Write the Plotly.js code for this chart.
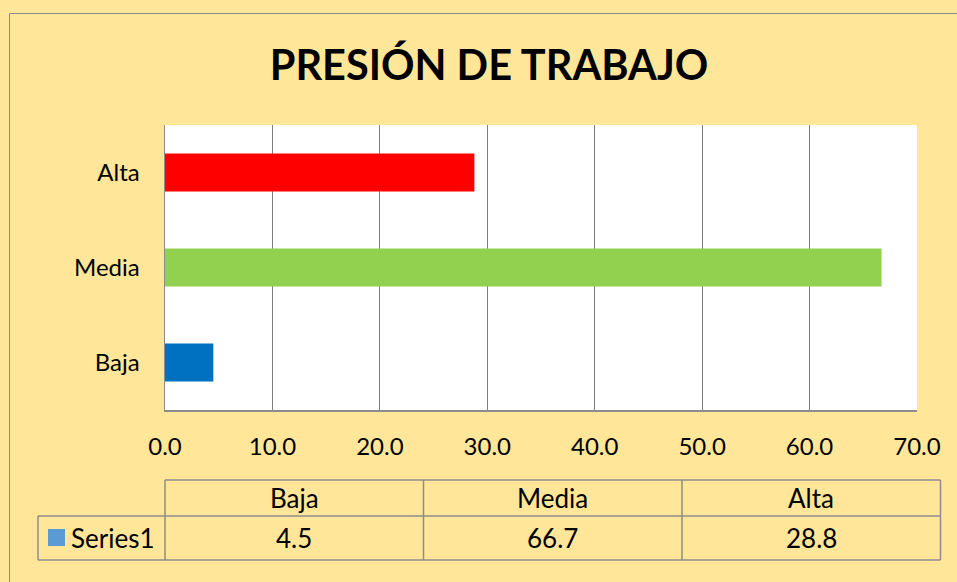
<!DOCTYPE html>
<html>
<head>
<meta charset="utf-8">
<script src="https://cdn.plot.ly/plotly-3.0.1.min.js"></script>
<style>
  html, body { margin: 0; padding: 0; background: #ffffff; }
  #chart { width: 957px; height: 582px; }
</style>
</head>
<body>
<div id="chart"></div>
<script>
// ---- data ----
const categories = ['Baja', 'Media', 'Alta'];
const values = [4.5, 66.7, 28.8];
const barColors = ['#0070C0', '#92D050', '#FF0000'];
const seriesName = 'Series1';
const chartTitle = 'PRESIÓN DE TRABAJO';
const xTickValues = [0, 10, 20, 30, 40, 50, 60, 70];

// ---- layout geometry (pixels) ----
const W = 957, H = 582;
const L = 165, R = 917, T = 125, B = 410;
const pw = R - L, ph = B - T;
const px = v => (v - L) / pw;          // pixel x -> paper x
const py = v => (B - v) / ph;          // pixel y -> paper y

const FONT = 'Lato, "Open Sans", sans-serif';
const GRAY = '#8c8c8c';
const GRID = '#7f7f7f';
const BG = '#FFE699';

const trace = {
  type: 'bar',
  orientation: 'h',
  y: categories,
  x: values,
  name: seriesName,
  marker: { color: barColors, line: { width: 0 } },
  hoverinfo: 'x+y'
};

// table geometry
const tblTop = 480, tblMid = 516, tblBot = 560;
const colEdges = [165, 423.5, 682, 940.5];
const legLeft = 38;

const shapes = [];
// outer chart border
shapes.push({ type: 'rect', xref: 'paper', yref: 'paper',
  x0: px(9.5), x1: px(W + 5), y0: py(H + 5), y1: py(13.5),
  line: { color: GRAY, width: 1 }, fillcolor: 'rgba(0,0,0,0)', layer: 'below' });
// table horizontal lines
shapes.push({ type: 'line', xref: 'paper', yref: 'paper', x0: px(colEdges[0]), x1: px(colEdges[3]), y0: py(tblTop), y1: py(tblTop), line: { color: GRAY, width: 1.5 } });
shapes.push({ type: 'line', xref: 'paper', yref: 'paper', x0: px(legLeft), x1: px(colEdges[3]), y0: py(tblMid), y1: py(tblMid), line: { color: GRAY, width: 1.5 } });
shapes.push({ type: 'line', xref: 'paper', yref: 'paper', x0: px(legLeft), x1: px(colEdges[3]), y0: py(tblBot), y1: py(tblBot), line: { color: GRAY, width: 1.5 } });
// table vertical lines
shapes.push({ type: 'line', xref: 'paper', yref: 'paper', x0: px(legLeft), x1: px(legLeft), y0: py(tblMid), y1: py(tblBot), line: { color: GRAY, width: 1.5 } });
colEdges.forEach(e => shapes.push({ type: 'line', xref: 'paper', yref: 'paper', x0: px(e), x1: px(e), y0: py(tblTop), y1: py(tblBot), line: { color: GRAY, width: 1.5 } }));
// legend key
shapes.push({ type: 'rect', xref: 'paper', yref: 'paper', x0: px(48), x1: px(65), y0: py(546), y1: py(529),
  line: { width: 0 }, fillcolor: '#5B9BD5' });

const annotations = [];
categories.forEach((c, i) => {
  const cx = (colEdges[i] + colEdges[i + 1]) / 2;
  annotations.push({ xref: 'paper', yref: 'paper', x: px(cx), y: py((tblTop + tblMid) / 2),
    text: c, showarrow: false, xanchor: 'center', yanchor: 'middle',
    font: { family: FONT, size: 26, color: '#000' } });
  annotations.push({ xref: 'paper', yref: 'paper', x: px(cx), y: py((tblMid + tblBot) / 2),
    text: values[i].toFixed(1), showarrow: false, xanchor: 'center', yanchor: 'middle',
    font: { family: FONT, size: 26, color: '#000' } });
});
annotations.push({ xref: 'paper', yref: 'paper', x: px(69), y: py((tblMid + tblBot) / 2),
  text: seriesName, showarrow: false, xanchor: 'left', yanchor: 'middle',
  font: { family: FONT, size: 26, color: '#000' } });

const layout = {
  width: W, height: H,
  margin: { l: L, r: W - R, t: T, b: H - B, pad: 0 },
  paper_bgcolor: BG,
  plot_bgcolor: '#ffffff',
  showlegend: false,
  bargap: 0.6,
  title: { text: '<b>' + chartTitle + '</b>', x: px(489), xref: 'paper', xanchor: 'center',
    y: 1 - 65 / H, yref: 'container', yanchor: 'middle',
    font: { family: FONT, size: 41.5, color: '#000' } },
  xaxis: {
    range: [0, 70], tickvals: xTickValues, tickformat: '.1f',
    showgrid: true, gridcolor: GRID, gridwidth: 1,
    zeroline: false, showline: true, linecolor: GRAY, linewidth: 1.5,
    ticks: '', ticklabelstandoff: 15,
    tickfont: { family: FONT, size: 24, color: '#000' }, fixedrange: true
  },
  yaxis: {
    type: 'category', showgrid: false, zeroline: false,
    showline: true, linecolor: GRAY, linewidth: 1.5,
    ticks: '', ticklabelstandoff: 19,
    tickfont: { family: FONT, size: 24, color: '#000' }, fixedrange: true
  },
  shapes: shapes,
  annotations: annotations
};

Plotly.newPlot('chart', [trace], layout, { displayModeBar: false, staticPlot: true });
</script>
</body>
</html>
